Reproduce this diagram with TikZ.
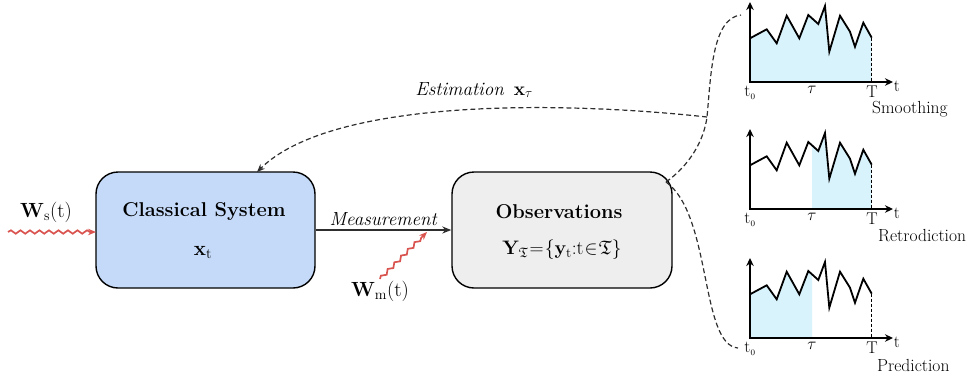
\RequirePackage{fix-cm}
\documentclass[tikz,border=0pt]{standalone}
\usepackage{amssymb}
\usetikzlibrary{arrows.meta,decorations.pathmorphing,calc}
\definecolor{csblue}{HTML}{C5DAF8}
\definecolor{obsgray}{HTML}{EEEEEE}
\definecolor{wavered}{HTML}{D9534F}
\definecolor{fillcyan}{HTML}{D8F3FC}
\definecolor{dashgray}{HTML}{2E2E2E}
\begin{document}
\begin{tikzpicture}[x=1pt,y=-1pt,
  box/.style={draw=black, line width=1.4pt, rounded corners=22pt, minimum width=219pt, minimum height=116pt, inner sep=0pt},
  boxtitle/.style={font=\fontsize{20}{23}\selectfont\bfseries},
  boxmath/.style={font=\fontsize{20.5}{23}\selectfont},
  lbl/.style={font=\fontsize{19}{22}\selectfont},
  mathlbl/.style={font=\fontsize{20.5}{23}\selectfont},
  ticklbl/.style={font=\fontsize{17}{20}\selectfont, inner sep=0pt},
  wavy/.style={draw=wavered, line width=1.7pt, decorate, decoration={snake, amplitude=1.7pt, segment length=9.5pt, post length=6pt}, -{Stealth[length=8pt,width=6.5pt]}},
  dashline/.style={draw=dashgray, line width=1.2pt, dash pattern=on 5pt off 3pt},
  flowarrow/.style={draw=dashgray, line width=1.4pt, -{Stealth[length=9pt,width=7pt]}},
]
\useasboundingbox (0,0) rectangle (970,376);

% boxes
\node[box, fill=csblue] (cs) at (205.5,230) {};
\node[box, fill=obsgray, minimum width=220pt] (obs) at (562,230) {};
\node[boxtitle] (cst) at (204,212) {Classical System};
\node[boxmath] (csx) at (203,252) {$\mathbf{x}_{\mathrm{t}}$};
\node[boxmath, font=\fontsize{19.5}{22}\selectfont] (obsy) at (562,250) {$\mathbf{Y}_{\mathfrak{T}}{\mkern1mu=\mkern1mu}\{\mathbf{y}_{\mathrm{t}}{:}\mathrm{t}{\mkern1mu\in\mkern1mu}\mathfrak{T}\}$};
\node[boxtitle] (obst) at (559,212) {Observations};

% measurement
\draw[flowarrow] (cs.east) -- (obs.west) node[midway, above=0pt, lbl] (meas) {\textit{Measurement}};

% noise inputs
\coordinate (wsstart) at (8,232);
\coordinate (wsend) at (96,232);
\draw[wavy] (wsstart) -- (wsend);
\node[mathlbl] (wslbl) at (46,212) {$\mathbf{W}_{\mathrm{s}}(\mathrm{t})$};
\coordinate (wmstart) at (380,279);
\coordinate (wmend) at (427,232);
\draw[wavy] (wmstart) -- (wmend);
\node[mathlbl] (wmlbl) at (380,291) {$\mathbf{W}_{\mathrm{m}}(\mathrm{t})$};

% dashed connectors
\coordinate (oc) at (666,182);
\coordinate (jn) at (707,117);
\coordinate (g1c) at (741,15);
\coordinate (g3c) at (738,348);
\coordinate (cstop) at (257,172);
\draw[dashline] (oc) .. controls (690,165) and (704,140) .. (jn)
  .. controls (711,75) and (712,18) .. (g1c);
\draw[dashline] (oc) .. controls (712,215) and (700,345) .. (g3c);
\draw[dashline, -{Stealth[length=8pt,width=6.5pt]}] (jn) .. controls (550,100) and (330,100) .. (cstop);
\node[lbl] (estlbl) at (474,90) {\textit{Estimation}\enspace$\mathbf{x}_{\tau}$};

% graphs
\foreach \oy/\xa/\xb/\gname/\lx in {82/0/121.7/Smoothing/122, 209/62/121.7/Retrodiction/128, 338/0/62/Prediction/127}{
  \begin{scope}[shift={(750,\oy)}]
    \begin{scope}
      \clip (\xa,1) rectangle (\xb,-80);
      \fill[fillcyan] (0,0) -- plot coordinates {(0,-43.7) (16.7,-52.7) (26.7,-38.7) (36.7,-66.3) (49.3,-43.7) (58.3,-67) (68.3,-58) (75,-76) (79.3,-30.3) (90,-66.3) (100,-50.3) (105,-35.3) (113.3,-59.3) (121.7,-44.3)} -- (121.7,0) -- cycle;
    \end{scope}
    \draw[line width=1.8pt, line join=miter] plot coordinates {(0,-43.7) (16.7,-52.7) (26.7,-38.7) (36.7,-66.3) (49.3,-43.7) (58.3,-67) (68.3,-58) (75,-76) (79.3,-30.3) (90,-66.3) (100,-50.3) (105,-35.3) (113.3,-59.3) (121.7,-44.3)};
    \draw[line width=1.1pt, dash pattern=on 3pt off 2pt] (121.7,-44.3) -- (121.7,0);
    \draw[line width=2.8pt, {Stealth[length=8pt,width=7.5pt]}-{Stealth[length=8pt,width=7.5pt]}] (0,-80) -- (0,0) -- (143,0);
    \node[ticklbl, anchor=north] (t0\gname) at (0,4) {$\mathrm{t}_{\scriptscriptstyle 0}$};
    \node[ticklbl, anchor=north] (tau\gname) at (62,4) {$\tau$};
    \node[ticklbl, anchor=north] (T\gname) at (122,4) {$\mathrm{T}$};
    \node[ticklbl] (tt\gname) at (147,4) {$\mathrm{t}$};
    \node[lbl, anchor=west, inner sep=0pt] (lab\gname) at (\lx,27) {\fontsize{17.5}{20}\selectfont\gname};
  \end{scope}
}
\end{tikzpicture}
\end{document}
